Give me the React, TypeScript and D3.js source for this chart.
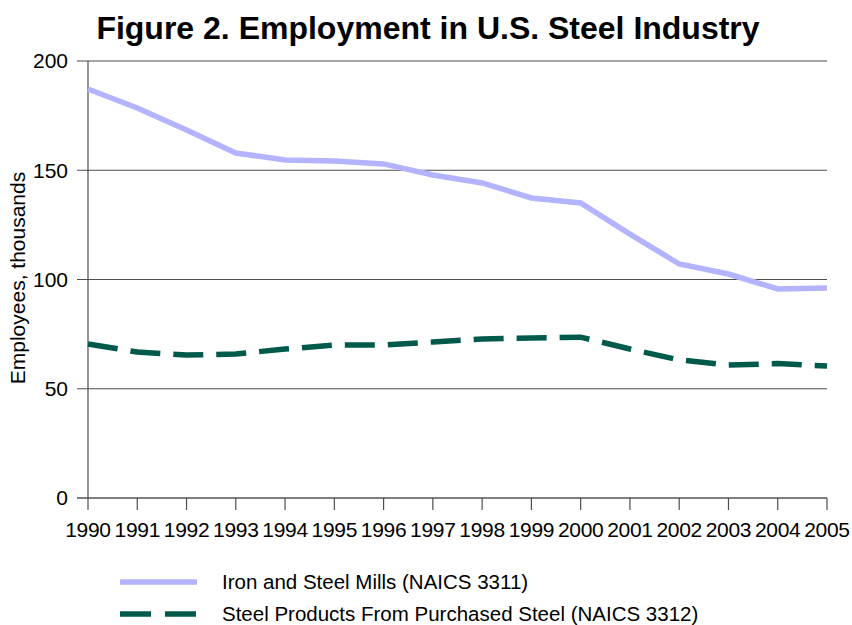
import React from 'react';
import * as d3 from 'd3';

const years = [1990, 1991, 1992, 1993, 1994, 1995, 1996, 1997, 1998, 1999, 2000, 2001, 2002, 2003, 2004, 2005];
const millsValues = [187.2, 178.5, 168.4, 157.9, 154.7, 154.2, 152.9, 147.8, 144.2, 137.3, 135.0, 120.8, 107.1, 102.5, 95.7, 96.1];
const productsValues = [70.5, 66.8, 65.4, 65.9, 68.2, 70.0, 70.0, 71.4, 72.8, 73.2, 73.6, 68.2, 63.2, 60.9, 61.5, 60.4];
const yTicks = [0, 50, 100, 150, 200];

const series = [
  { name: 'Iron and Steel Mills (NAICS 3311)', values: millsValues, color: '#b3b3ff', dash: null },
  { name: 'Steel Products From Purchased Steel (NAICS 3312)', values: productsValues, color: '#005a4c', dash: '30,13' },
];

const W = 852;
const H = 625;
const margin = { left: 88, right: 25, top: 61, bottom: 127 };
const font = 'Arial, "Liberation Sans", sans-serif';

export default function App() {
  const x = d3.scaleLinear().domain([1990, 2005]).range([margin.left, W - margin.right]);
  const y = d3.scaleLinear().domain([0, 200]).range([H - margin.bottom, margin.top]);

  const line = d3.line<number>()
    .x((d, i) => x(years[i]))
    .y(d => y(d));

  return (
    <svg width={W} height={H} style={{ position: 'absolute', left: 0, top: 0, fontFamily: font }}>
      <rect width={W} height={H} fill="#fff" />
      <text x={428} y={39} textAnchor="middle" fontSize={32} fontWeight="bold">
        Figure 2. Employment in U.S. Steel Industry
      </text>

      {/* grid + y ticks */}
      {yTicks.map(t => (
        <g key={t}>
          <line x1={x(1990) - 11} x2={x(2005)} y1={y(t)} y2={y(t)} stroke={t === 0 ? '#000' : '#4d4d4d'} strokeWidth={1.2} />
          <text x={68} y={y(t)} dy="0.35em" textAnchor="end" fontSize={21}>{t}</text>
        </g>
      ))}
      <line x1={x(1990)} x2={x(1990)} y1={y(200)} y2={y(0)} stroke="#4d4d4d" strokeWidth={1.2} />

      {/* x ticks */}
      {years.map(yr => (
        <g key={yr}>
          <line x1={x(yr)} x2={x(yr)} y1={y(0)} y2={y(0) + 12} stroke="#4d4d4d" strokeWidth={1.2} />
          <text x={x(yr)} y={537} textAnchor="middle" fontSize={21} letterSpacing={-0.3}>{yr}</text>
        </g>
      ))}

      <text transform={`translate(25,278) rotate(-90)`} textAnchor="middle" fontSize={21}>
        Employees, thousands
      </text>

      {series.map(s => (
        <path key={s.name} d={line(s.values) || ''} fill="none" stroke={s.color} strokeWidth={5.5}
          strokeDasharray={s.dash || undefined} />
      ))}

      {series.map((s, i) => (
        <g key={s.name} transform={`translate(0,${582 + i * 32})`}>
          <line x1={120} x2={197} y1={0} y2={0} stroke={s.color} strokeWidth={5.5} strokeDasharray={s.dash ? '31,14' : undefined} />
          <text x={222} y={0} dy="0.35em" fontSize={20.5}>{s.name}</text>
        </g>
      ))}
    </svg>
  );
}
